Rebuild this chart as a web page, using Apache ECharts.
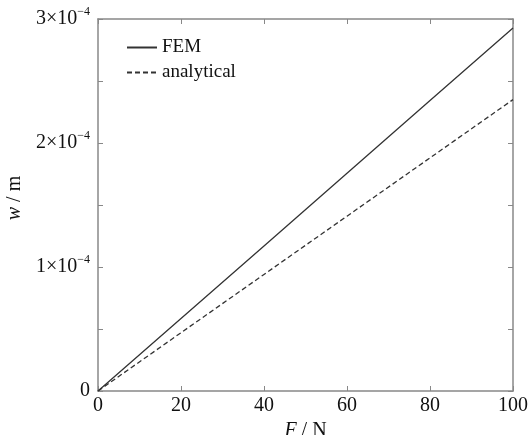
<!DOCTYPE html>
<html>
<head>
<meta charset="utf-8">
<script src="https://cdn.jsdelivr.net/npm/echarts@6/dist/echarts.min.js"></script>
<style>
  html, body { margin: 0; padding: 0; background: #fff; }
  #chart { width: 529px; height: 435px; }
</style>
</head>
<body>
<div id="chart"></div>
<script>
// force F (N)
var forces = [0, 20, 40, 60, 80, 100];
// deflection w (m)
var femW = [0, 0.585e-4, 1.17e-4, 1.756e-4, 2.342e-4, 2.927e-4];
var analyticalW = [0, 0.47e-4, 0.94e-4, 1.41e-4, 1.88e-4, 2.35e-4];
var yTickLabels = { 0: '0', 1: '1', 2: '2', 3: '3' };

var font = 'Liberation Serif';
var axisGrey = '#888888';

function pairs(xs, ys) {
    var out = [];
    for (var i = 0; i < xs.length; i++) out.push([xs[i], ys[i]]);
    return out;
}

var chart = echarts.init(document.getElementById('chart'));

var option = {
    animation: false,
    backgroundColor: '#ffffff',
    grid: { left: 98, top: 19, right: 16, bottom: 44, outerBoundsMode: 'none', containLabel: false },
    legend: {
        left: 121,
        top: 33,
        orient: 'vertical',
        itemWidth: 30,
        itemHeight: 10,
        itemGap: 6,
        itemStyle: { opacity: 0 },
        textStyle: { fontFamily: font, fontSize: 19, color: '#111' },
        data: ['FEM', 'analytical']
    },
    xAxis: [{
        type: 'value',
        min: 0, max: 100, interval: 20,
        name: '{i|F} / N',
        nameLocation: 'middle',
        nameGap: 21,
        nameTextStyle: {
            fontFamily: font, fontSize: 20, color: '#111',
            rich: { i: { fontFamily: font, fontSize: 20, fontStyle: 'italic', color: '#111' } }
        },
        axisLine: { onZero: false, lineStyle: { color: axisGrey, width: 1.5 } },
        axisTick: { inside: true, length: 5, lineStyle: { color: axisGrey } },
        axisLabel: { fontFamily: font, fontSize: 20, color: '#111', margin: 5 },
        splitLine: { show: false }
    }, {
        type: 'value',
        position: 'top',
        min: 0, max: 100, interval: 20,
        axisLine: { show: true, onZero: false, lineStyle: { color: axisGrey, width: 1.5 } },
        axisTick: { inside: true, length: 5, lineStyle: { color: axisGrey } },
        axisLabel: { show: false },
        splitLine: { show: false }
    }],
    yAxis: [{
        type: 'value',
        min: 0, max: 3e-4, interval: 0.5e-4,
        name: '{i|w} / m',
        nameLocation: 'middle',
        nameGap: 66,
        nameRotate: 90,
        nameTextStyle: {
            fontFamily: font, fontSize: 20, color: '#111',
            padding: [0, 0, 0, 14],
            rich: { i: { fontFamily: font, fontSize: 20, fontStyle: 'italic', color: '#111' } }
        },
        axisLine: { show: true, onZero: false, lineStyle: { color: axisGrey, width: 1.5 } },
        axisTick: { inside: true, length: 5, lineStyle: { color: axisGrey } },
        axisLabel: {
            margin: 8,
            formatter: function (v) {
                var k = Math.round(v / 1e-4 * 2) / 2;
                if (k === 0) return '{a|0}';
                if (k % 1 !== 0) return '';
                return '{a|' + yTickLabels[k] + '×10}{s|−4}';
            },
            rich: {
                a: { fontFamily: font, fontSize: 20, color: '#111' },
                s: { fontFamily: font, fontSize: 12, color: '#111', padding: [0, 0, 14, 0] }
            }
        },
        splitLine: { show: false }
    }, {
        type: 'value',
        position: 'right',
        min: 0, max: 3e-4, interval: 0.5e-4,
        axisLine: { show: true, onZero: false, lineStyle: { color: axisGrey, width: 1.5 } },
        axisTick: { inside: true, length: 5, lineStyle: { color: axisGrey } },
        axisLabel: { show: false },
        splitLine: { show: false }
    }],
    series: [{
        name: 'FEM',
        type: 'line',
        data: pairs(forces, femW),
        symbol: 'none',
        lineStyle: { color: '#333333', width: 1.3, type: 'solid' },
        itemStyle: { color: '#333333' }
    }, {
        name: 'analytical',
        type: 'line',
        data: pairs(forces, analyticalW),
        symbol: 'none',
        lineStyle: { color: '#333333', width: 1.3, type: [5, 3] },
        itemStyle: { color: '#333333' }
    }]
};

chart.setOption(option);
</script>
</body>
</html>
